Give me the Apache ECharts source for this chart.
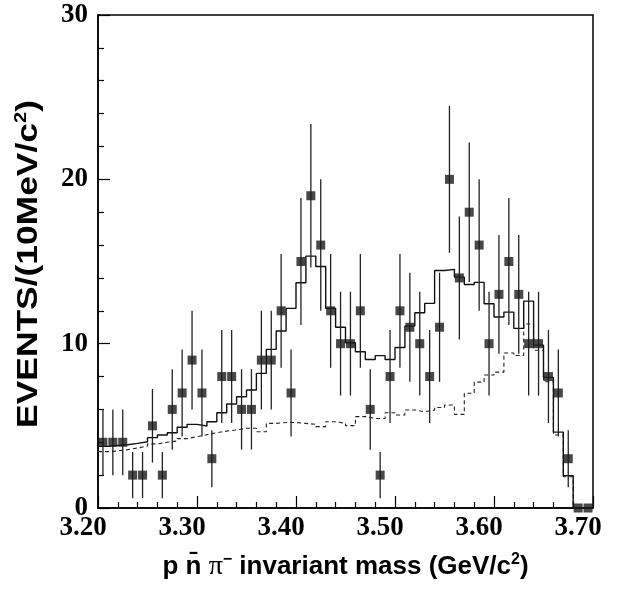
<!DOCTYPE html>
<html><head><meta charset="utf-8">
<script src="https://cdn.jsdelivr.net/npm/echarts@6/dist/echarts.min.js"></script>
<style>html,body{margin:0;padding:0;background:#fff}#c{width:621px;height:593px}</style>
</head><body><div id="c"></div>
<script>
// Bin centres (GeV/c^2), 10 MeV bins
const binCenters = [3.205,3.215,3.225,3.235,3.245,3.255,3.265,3.275,3.285,3.295,
  3.305,3.315,3.325,3.335,3.345,3.355,3.365,3.375,3.385,3.395,
  3.405,3.415,3.425,3.435,3.445,3.455,3.465,3.475,3.485,3.495,
  3.505,3.515,3.525,3.535,3.545,3.555,3.565,3.575,3.585,3.595,
  3.605,3.615,3.625,3.635,3.645,3.655,3.665,3.675,3.685,3.695];
const binWidth = 0.01;
// Data points (events per bin)
const counts = [4,4,4,2,2,5,2,6,7,9,
  7,3,8,8,6,6,9,9,12,7,
  15,19,16,12,10,10,12,6,2,8,
  12,11,10,8,11,20,14,18,16,10,
  13,15,13,10,10,8,7,3,0,0];
// Error bar half-lengths
const countErrors = [2.0,2.0,2.0,1.41,1.41,2.24,1.41,2.45,2.65,3.0,
  2.65,1.73,2.83,2.83,2.45,2.45,3.0,3.0,3.46,2.65,
  3.87,4.36,4.0,3.46,3.16,3.16,3.46,2.45,1.41,2.83,
  3.46,3.32,3.16,2.83,3.32,4.47,3.74,4.24,4.0,3.16,
  3.61,3.87,3.61,3.16,3.16,2.83,2.65,1.73,0,0];
// Solid histogram (total fit)
const totalFit = [3.75,3.8,3.85,3.93,4.03,4.28,4.44,4.58,4.91,5.09,
  4.99,5.25,5.8,6.33,6.77,7.18,8.19,9.65,10.77,12.15,
  13.71,15.33,14.7,12.15,11.0,10.06,9.51,9.04,9.27,9.04,
  9.77,11.07,11.88,12.45,14.45,14.52,14.05,13.6,13.73,12.43,
  11.62,11.92,10.93,12.59,9.91,7.95,4.62,1.97,0,0];
// Dashed histogram (background)
const background = [3.43,3.47,3.55,3.65,3.77,3.9,4.0,4.08,4.22,4.34,
  4.46,4.58,4.68,4.75,4.85,4.85,4.64,5.15,5.2,5.2,
  5.15,5.09,4.95,5.25,5.15,5.01,5.56,5.45,5.45,5.8,
  5.66,5.96,5.86,5.96,6.12,6.27,5.7,6.98,7.66,8.09,
  8.27,9.43,9.28,11.2,9.6,7.68,4.44,1.9,0,0];
const xTickLabels = ['3.20','3.30','3.40','3.50','3.60','3.70'];
const yTickLabels = ['0','10','20','30'];
const yTitle = '{t|EVENTS/(10MeV/c}{s|2}{t|)}';

function stepPoints(vals){
  const pts=[];
  for(let i=0;i<binCenters.length;i++){
    pts.push([binCenters[i]-binWidth/2, vals[i]]);
    pts.push([binCenters[i]+binWidth/2, vals[i]]);
  }
  return pts;
}

const chart = echarts.init(document.getElementById('c'), null, {renderer:'canvas'});
const tickFont = {fontFamily:'Liberation Serif', fontWeight:'bold', fontSize:27, color:'#000'};
chart.setOption({
  animation:false,
  backgroundColor:'#fff',
  grid:{left:98, right:28, top:15, bottom:85, show:true, borderColor:'#000', borderWidth:1.5, backgroundColor:'transparent', containLabel:false, outerBoundsMode:'none'},
  graphic:[{
    type:'text', x:29, y:264, rotation:Math.PI/2, scaleX:1.18, scaleY:1,
    style:{text:yTitle, align:'center', verticalAlign:'middle',
      rich:{
        t:{fontFamily:'Liberation Sans', fontWeight:'bold', fontSize:30, fill:'#000', lineHeight:32},
        s:{fontFamily:'Liberation Sans', fontWeight:'bold', fontSize:17, fill:'#000', verticalAlign:'top', lineHeight:17}
      }}
  }],
  xAxis:{
    type:'value', min:3.2, max:3.7, interval:0.1,
    axisLine:{show:true, onZero:false, lineStyle:{color:'#000', width:1.5}},
    axisTick:{show:true, inside:true, length:12, lineStyle:{color:'#000', width:1.2}},
    minorTick:{show:true, splitNumber:5, length:6, lineStyle:{color:'#000', width:1.2}},
    splitLine:{show:false}, minorSplitLine:{show:false},
    axisLabel:Object.assign({margin:7, padding:[0,30,0,0],
      formatter:(v)=>xTickLabels[Math.round((v-3.2)/0.1)]}, tickFont),
    name:'{t|p }{t|n\u0304}{t| }{g|\u03c0}{s|\u2212}{t| invariant mass (GeV/c}{s|2}{t|)}',
    nameLocation:'middle', nameGap:44,
    nameTextStyle:{rich:{
      t:{fontFamily:'Liberation Sans', fontWeight:'bold', fontSize:26, color:'#000', lineHeight:30},
      g:{fontFamily:'Liberation Serif', fontWeight:'normal', fontSize:28, color:'#000', lineHeight:30},
      s:{fontFamily:'Liberation Sans', fontWeight:'bold', fontSize:16, color:'#000', verticalAlign:'top', lineHeight:14}
    }}
  },
  yAxis:{
    type:'value', min:0, max:30, interval:10,
    axisLine:{show:true, onZero:false, lineStyle:{color:'#000', width:1.5}},
    axisTick:{show:true, inside:true, length:12, lineStyle:{color:'#000', width:1.2}},
    minorTick:{show:true, splitNumber:5, length:6, lineStyle:{color:'#000', width:1.2}},
    splitLine:{show:false}, minorSplitLine:{show:false},
    axisLabel:Object.assign({margin:10, formatter:(v)=>yTickLabels[Math.round(v/10)]}, tickFont)
  },
  series:[
    {type:'line', data:stepPoints(background), showSymbol:false, silent:true, z:2,
      lineStyle:{color:'#222', width:1.1, type:[4,3]}},
    {type:'line', data:stepPoints(totalFit), showSymbol:false, silent:true, z:3,
      lineStyle:{color:'#111', width:1.4}},
    {type:'custom', silent:true, z:4,
      data:binCenters.map((x,i)=>[x,counts[i],countErrors[i]]),
      encode:{x:0, y:1},
      renderItem:function(params, api){
        const x=api.value(0), y=api.value(1), e=api.value(2);
        if(!(e>0)) return null;
        const p1=api.coord([x,y-e]), p2=api.coord([x,y+e]);
        return {type:'line', shape:{x1:p1[0],y1:p1[1],x2:p2[0],y2:p2[1]}, style:{stroke:'#222', lineWidth:1.3}};
      }},
    {type:'scatter', data:binCenters.map((x,i)=>[x,counts[i]]), symbol:'rect', symbolSize:9, z:5, silent:true,
      itemStyle:{color:'#1a1a1a'}}
  ]
});
</script></body></html>
